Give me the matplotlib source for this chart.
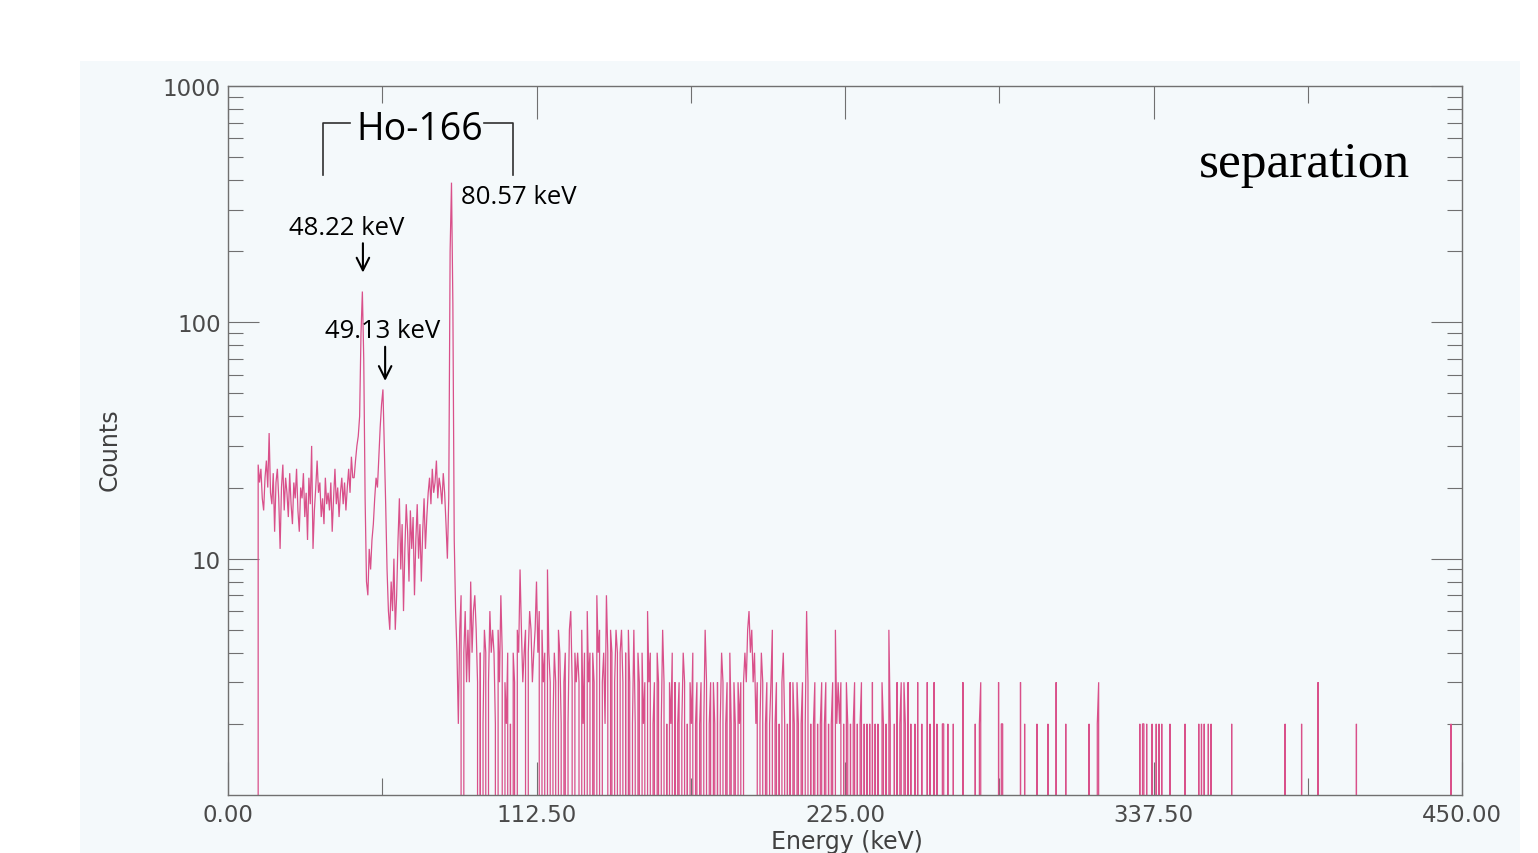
import numpy as np
import matplotlib
matplotlib.use("Agg")
import matplotlib.pyplot as plt
from matplotlib.ticker import FixedLocator, MultipleLocator, NullFormatter, FixedFormatter
from matplotlib.patches import Rectangle

# ---------------- data ----------------
# channel width 0.5 keV
low_start = 10.5
counts_low = [0,
    25, 21, 24, 18, 16, 22, 26, 20,
    34, 19, 17, 23, 13, 21, 24, 18,
    11, 20, 25, 16, 22, 19, 15, 23,
    17, 14, 21, 18, 24, 16, 13, 20,
    18, 23, 15, 19, 12, 22, 17, 30,
    11, 16, 20, 26, 19, 21, 15, 18,
    14, 22, 17, 19, 16, 21, 13, 18,
    24, 17, 20, 15, 19, 22, 17, 21,
    16, 20, 24, 19, 27, 22,
    22, 26, 30, 33, 40, 90, 135, 70, 18, 8,
    7, 11, 9, 12, 14, 18, 22, 20, 27, 36, 45, 52, 30, 17, 9, 6,
    5, 8, 6, 10, 5, 7, 12, 18, 9, 14,
    6, 11, 17, 13, 8, 16, 11, 15, 7, 12,
    17, 10, 14, 8, 13, 18, 11, 15, 19, 22,
    17, 24, 19, 21, 26, 18, 22, 20, 17, 23,
    19, 14, 10, 18,
    200, 390, 120, 12]

mid_start = 83.0
counts_mid = [
    6, 4, 2, 5, 7, 0, 4, 6, 3, 5,
    3, 8, 4, 6, 7, 5, 3, 0, 4, 0,
    2, 5, 4, 0, 3, 6, 4, 5, 4, 2,
    0, 5, 3, 7, 4, 0, 3, 2, 4, 0,
    2, 0, 4, 3, 0, 5, 4, 9, 5, 3,
    4, 5, 0, 4, 6, 5, 3, 4, 5, 8,
    4, 6, 0, 5, 3, 4, 0, 9, 4, 3,
    0, 2, 4, 3, 0, 5, 4, 2, 0, 3,
    4, 0, 2, 5, 6, 3, 0, 4, 3, 4,
    3, 0, 5, 2, 4, 0, 6, 3, 4, 0,
    4, 3, 0, 7, 4, 5, 0, 3, 4, 2,
    7, 4, 0, 5, 4, 0, 3, 5, 4, 0,
    4, 5, 3, 0, 4, 0, 5, 3, 0, 2,
    5, 2, 0, 4, 3, 0, 4, 2, 3, 0,
    6, 3, 4, 0, 2, 3, 0, 4, 3, 0,
    2, 5, 3, 0, 2, 0, 3, 2, 4, 0,
    3, 0, 2, 3, 0, 2, 4, 3, 0, 2,
    0, 3, 2, 4, 0, 2, 3, 0, 2, 3,
    0, 2, 5, 3, 0, 2, 3, 0, 3, 2,
    0, 3, 0, 2, 4, 3, 0, 2, 3, 0,
    4, 2, 0, 3, 2, 0, 3, 2, 3, 0,
    3, 4, 3, 5, 6, 4, 5, 3, 4, 2,
    3, 0, 2, 4, 3, 0, 2, 3, 0, 2,
    3, 5, 0, 2, 3, 0, 2, 0, 3, 4,
    2, 0, 2, 0, 3, 0, 3, 2, 0, 3,
    2, 0, 2, 3, 0, 2, 6, 3, 0, 2,
    0, 2, 3, 0, 2, 0, 2, 3, 0, 2,
    3, 0, 2, 0, 2, 3, 0, 5, 2, 3,
    2, 3, 0, 2, 0, 3, 2, 0, 2, 0,
    2, 3, 0, 2, 0, 2, 3, 0, 2, 0,
    2, 0, 2, 0, 3, 0, 2, 0, 2, 0,
    0, 3, 2, 0, 2, 0, 5, 2, 0, 0,
    2, 0, 3, 0, 2, 3, 0, 3, 2, 0,
    3, 0, 2, 0, 0, 2, 0, 3, 0, 0,
    2, 0, 0, 0, 3, 0, 2, 0, 0, 3,
    0, 2, 0, 0]

# sparse high-energy region: energies (keV) of non-zero channels and their counts
high_start = 260.0
high_end = 450.0
spike_energy = [260.5, 261.0, 262.5, 264.5, 268.0, 272.5, 274.0, 274.5, 281.0, 282.0,
                282.5, 289.0, 290.5, 295.0, 299.0, 302.0, 305.5, 314.0, 317.0, 317.5,
                332.5, 333.5, 334.0, 335.0, 337.0, 338.5, 339.5, 340.5, 343.5, 349.0,
                354.0, 355.0, 356.0, 357.5, 358.5, 366.0, 385.5, 391.5, 397.5, 411.5,
                446.0]
spike_counts = [2, 2, 2, 2, 3, 2, 2, 3, 3, 2,
                2, 3, 2, 2, 2, 3, 2, 2, 2, 3,
                2, 2, 2, 2, 2, 2, 2, 2, 2, 2,
                2, 2, 2, 2, 2, 2, 2, 2, 3, 2,
                2]

x_ticks = [0.0, 112.5, 225.0, 337.5, 450.0]
x_tick_labels = ["0.00", "112.50", "225.00", "337.50", "450.00"]
y_ticks = [10, 100, 1000]
y_tick_labels = ["10", "100", "1000"]

# ---------------- assemble channels ----------------
e_low = low_start + 0.5 * np.arange(len(counts_low))
e_mid = mid_start + 0.5 * np.arange(len(counts_mid))
e_high = np.arange(high_start, high_end + 0.25, 0.5)
c_high = np.zeros_like(e_high)
for e, c in zip(spike_energy, spike_counts):
    c_high[int(round((e - high_start) / 0.5))] = c
energy = np.concatenate([e_low, e_mid, e_high])
counts = np.concatenate([np.array(counts_low, float), np.array(counts_mid, float), c_high])

# ---------------- figure ----------------
W, H = 1538, 854
fig = plt.figure(figsize=(W / 100, H / 100), dpi=100)
fig.patch.set_facecolor("white")
bg = "#f4f9fb"
fig.add_artist(Rectangle((80 / W, 0), 1440 / W, 1 - 62 / H, transform=fig.transFigure,
                         facecolor=bg, edgecolor="none", zorder=-10))

def fx(px):
    return px / W

def fy(py):
    return 1 - py / H

ax = fig.add_axes([fx(228), fy(796), (1462 - 228) / W, (796 - 87) / H])
ax.set_zorder(1)
ax.set_facecolor(bg)
ax.plot(energy, counts, color="#d9508a", lw=0.9, solid_joinstyle="miter")
ax.set_yscale("log")
ax.set_xlim(0, 450)
ax.set_ylim(1, 1000)

for s in ax.spines.values():
    s.set_color("#707070")
    s.set_linewidth(1.0)

ax.xaxis.set_major_locator(FixedLocator(x_ticks))
ax.xaxis.set_major_formatter(FixedFormatter(x_tick_labels))
ax.xaxis.set_minor_locator(MultipleLocator(56.25))
ax.yaxis.set_major_locator(FixedLocator(y_ticks))
ax.yaxis.set_major_formatter(FixedFormatter(y_tick_labels))
ax.yaxis.set_minor_locator(FixedLocator([m * 10 ** k for k in range(0, 3) for m in range(2, 10)]))
ax.yaxis.set_minor_formatter(NullFormatter())

ax.tick_params(axis="x", which="major", direction="in", length=24, width=0.8, color="#707070",
               top=True, bottom=True, labelsize=16.5, labelcolor="#4a4a4a", pad=6)
ax.tick_params(axis="x", which="minor", direction="in", length=12, width=0.8, color="#707070",
               top=True, bottom=True)
ax.tick_params(axis="y", which="major", direction="in", length=22, width=0.8, color="#707070",
               left=True, right=True, labelsize=16.5, labelcolor="#4a4a4a", pad=5)
ax.tick_params(axis="y", which="minor", direction="in", length=11, width=0.8, color="#707070",
               left=True, right=True)
for lab in ax.get_xticklabels() + ax.get_yticklabels():
    lab.set_family("DejaVu Sans")

fig.text(fx(110), fy(450), "Counts", rotation=90, ha="center", va="center",
         fontsize=17, color="#404040", family="DejaVu Sans")
fig.text(fx(847), fy(842), "Energy (keV)", ha="center", va="center",
         fontsize=17, color="#404040", family="DejaVu Sans")

# ---------------- annotations ----------------
afont = "Open Sans"
ax.text(70.0, 660, "Ho-166", ha="center", va="center", fontsize=27, family=afont, color="black")
ax.plot([44.5, 34.6, 34.6], [697, 697, 420], color="#303030", lw=1.2, clip_on=False)
ax.plot([93.5, 103.9, 103.9], [697, 697, 420], color="#303030", lw=1.2, clip_on=False)

ax.text(85.0, 342, "80.57 keV", ha="left", va="center", fontsize=18.5, family=afont, color="black")
ax.text(43.1, 252, "48.22 keV", ha="center", va="center", fontsize=18.5, family=afont, color="black")
ax.annotate("", xy=(49.2, 158), xytext=(49.2, 222),
            arrowprops=dict(arrowstyle="->,head_length=0.9,head_width=0.45", color="black", lw=1.5))
ax.text(56.3, 92, "49.13 keV", ha="center", va="center", fontsize=18.5, family=afont, color="black")
ax.annotate("", xy=(57.3, 55), xytext=(57.3, 81),
            arrowprops=dict(arrowstyle="->,head_length=0.9,head_width=0.45", color="black", lw=1.5))

ax.text(392.4, 470, "separation", ha="center", va="center", fontsize=37,
        family="Liberation Serif", color="black")

fig.savefig("out.png", dpi=100, facecolor=fig.get_facecolor())
